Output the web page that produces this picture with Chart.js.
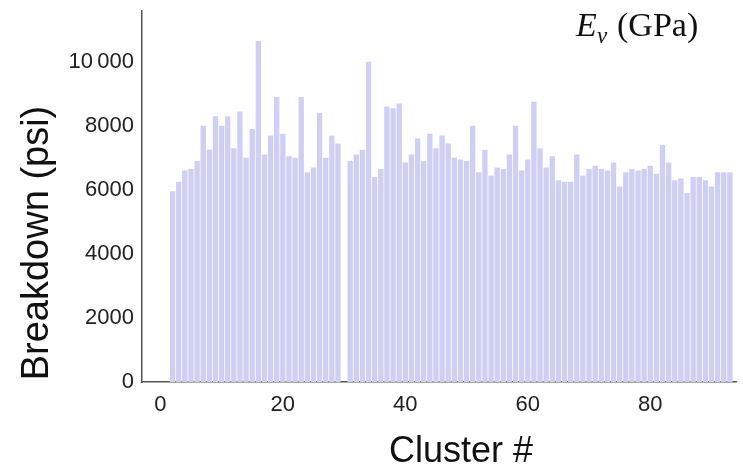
<!DOCTYPE html>
<html>
<head>
<meta charset="utf-8">
<script src="https://cdn.jsdelivr.net/npm/chart.js@4/dist/chart.umd.min.js"></script>
<style>
  html, body { margin: 0; padding: 0; background: #fff; }
  #wrap { width: 743px; height: 469px; position: relative; }
</style>
</head>
<body>
<div id="wrap"><canvas id="breakdownChart"></canvas></div>
<script>
/* Data */
const firstCluster = 2;
// breakdown pressure (psi) per cluster, starting at cluster 2; cluster 30 has no value
const breakdown = [
  5950, 6250, 6600, 6650, 6900, 8000, 7250, 8300, 8000, 8300,   // 2-11
  7300, 8450, 7000, 7900, 10650, 7100, 7700, 8900, 7750, 7050,  // 12-21
  7000, 8900, 6550, 6700, 8400, 7000, 7700, 7450, null, 6900,   // 22-31
  7100, 7250, 10000, 6400, 6650, 8600, 8550, 8700, 6850, 7100,  // 32-41
  7600, 6900, 7750, 7300, 7700, 7450, 7000, 6950, 6900, 8000,   // 42-51
  6550, 7250, 6450, 6700, 6650, 7100, 8000, 6600, 6950, 8750,   // 52-61
  7300, 6700, 7050, 6300, 6250, 6250, 7100, 6450, 6650, 6750,   // 62-71
  6650, 6600, 6850, 6100, 6550, 6650, 6600, 6650, 6750, 6500,   // 72-81
  7400, 6850, 6300, 6350, 5900, 6400, 6400, 6300, 6100, 6550,   // 82-91
  6550, 6550                                                    // 92-93
];
const clusters = breakdown.map((_, i) => firstCluster + i);

const xTicks = [0, 20, 40, 60, 80];
const yTicks = [0, 2000, 4000, 6000, 8000, 10000];
const yTickLabels = ['0', '2000', '4000', '6000', '8000', '10\u2009000'];

/* Text drawn outside the scales: axis titles and the panel label */
const textPlugin = {
  id: 'panelText',
  afterDraw(chart) {
    const ctx = chart.ctx;
    ctx.save();
    ctx.fillStyle = '#111';
    ctx.textAlign = 'center';
    ctx.textBaseline = 'middle';
    ctx.font = '36px "Liberation Sans", Arial, sans-serif';
    ctx.fillText('Cluster #', 461, 452);
    ctx.save();
    ctx.font = '38px "Liberation Sans", Arial, sans-serif';
    ctx.translate(38, 243);
    ctx.rotate(-Math.PI / 2);
    ctx.fillText('Breakdown (psi)', 0, 0);
    ctx.restore();

    ctx.textAlign = 'left';
    ctx.textBaseline = 'alphabetic';
    ctx.font = 'italic 34px "Liberation Serif", "Times New Roman", serif';
    ctx.fillText('E', 576, 36);
    ctx.font = 'italic 23px "Liberation Serif", "Times New Roman", serif';
    ctx.fillText('v', 597, 43);
    ctx.font = '34px "Liberation Serif", "Times New Roman", serif';
    ctx.fillText('(GPa)', 617, 36);
    ctx.restore();
  }
};

/* Chart */
new Chart(document.getElementById('breakdownChart'), {
  type: 'bar',
  data: {
    datasets: [{
      data: clusters.map((c, i) => ({ x: c, y: breakdown[i] })),
      backgroundColor: '#cfcff3',
      borderWidth: 0,
      barThickness: 4.7
    }]
  },
  options: {
    responsive: true,
    maintainAspectRatio: false,
    animation: false,
    layout: { padding: { top: 11, right: 7, left: 0, bottom: 0 } },
    plugins: { legend: { display: false }, tooltip: { enabled: false } },
    scales: {
      x: {
        type: 'linear',
        offset: false,
        min: -3,
        max: 94,
        grid: { display: false, drawTicks: false },
        border: { display: true, color: '#555', width: 1.5 },
        afterBuildTicks: s => { s.ticks = xTicks.map(v => ({ value: v })); },
        afterFit: s => { s.height = 87; s.paddingLeft = 0; s.paddingRight = 0; },
        ticks: {
          padding: 10,
          color: '#222',
          font: { family: '"Liberation Sans", Arial, sans-serif', size: 22 },
          callback: v => String(v)
        }
      },
      y: {
        min: 0,
        max: 11600,
        grid: { display: false, drawTicks: false },
        border: { display: true, color: '#555', width: 1.5 },
        afterBuildTicks: s => { s.ticks = yTicks.map(v => ({ value: v })); },
        afterFit: s => { s.width = 142; s.paddingTop = 0; s.paddingBottom = 0; },
        ticks: {
          padding: 8,
          color: '#222',
          font: { family: '"Liberation Sans", Arial, sans-serif', size: 22 },
          callback: v => yTickLabels[yTicks.indexOf(v)]
        }
      }
    }
  },
  plugins: [textPlugin]
});
</script>
</body>
</html>
